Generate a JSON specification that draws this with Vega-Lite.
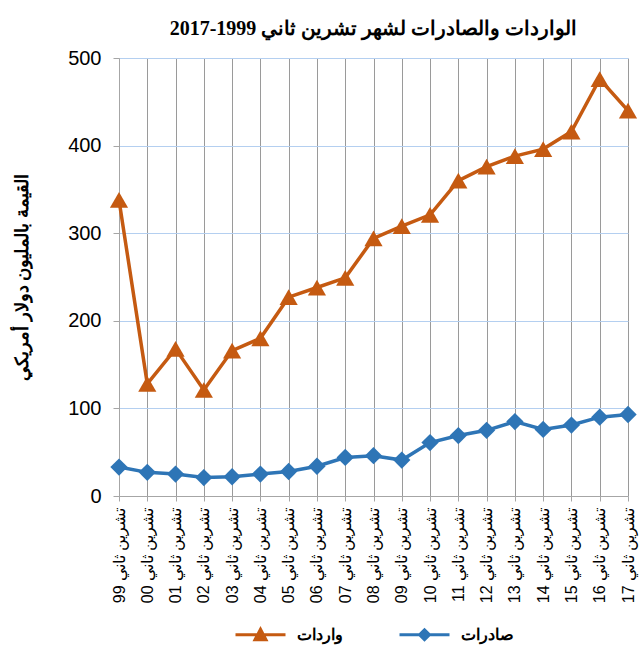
{
  "$schema": "https://vega.github.io/schema/vega-lite/v6.json",
  "width": 509,
  "height": 438,
  "padding": {"left": 13, "top": 19, "right": 14, "bottom": 5},
  "background": "#ffffff",
  "title": {
    "text": "الواردات والصادرات لشهر تشرين ثاني 1999-2017",
    "font": "Liberation Serif",
    "fontSize": 20,
    "fontWeight": "bold",
    "color": "#000000",
    "offset": 9
  },
  "data": {
    "values": [
      {"month": "تشرين ثاني 99", "series": "واردات", "value": 338},
      {"month": "تشرين ثاني 00", "series": "واردات", "value": 128},
      {"month": "تشرين ثاني 01", "series": "واردات", "value": 168},
      {"month": "تشرين ثاني 02", "series": "واردات", "value": 121},
      {"month": "تشرين ثاني 03", "series": "واردات", "value": 166},
      {"month": "تشرين ثاني 04", "series": "واردات", "value": 180},
      {"month": "تشرين ثاني 05", "series": "واردات", "value": 227},
      {"month": "تشرين ثاني 06", "series": "واردات", "value": 238},
      {"month": "تشرين ثاني 07", "series": "واردات", "value": 249},
      {"month": "تشرين ثاني 08", "series": "واردات", "value": 294},
      {"month": "تشرين ثاني 09", "series": "واردات", "value": 308},
      {"month": "تشرين ثاني 10", "series": "واردات", "value": 321},
      {"month": "تشرين ثاني 11", "series": "واردات", "value": 360},
      {"month": "تشرين ثاني 12", "series": "واردات", "value": 376},
      {"month": "تشرين ثاني 13", "series": "واردات", "value": 388},
      {"month": "تشرين ثاني 14", "series": "واردات", "value": 396},
      {"month": "تشرين ثاني 15", "series": "واردات", "value": 416},
      {"month": "تشرين ثاني 16", "series": "واردات", "value": 476},
      {"month": "تشرين ثاني 17", "series": "واردات", "value": 440},
      {"month": "تشرين ثاني 99", "series": "صادرات", "value": 33},
      {"month": "تشرين ثاني 00", "series": "صادرات", "value": 27},
      {"month": "تشرين ثاني 01", "series": "صادرات", "value": 25},
      {"month": "تشرين ثاني 02", "series": "صادرات", "value": 21},
      {"month": "تشرين ثاني 03", "series": "صادرات", "value": 22},
      {"month": "تشرين ثاني 04", "series": "صادرات", "value": 25},
      {"month": "تشرين ثاني 05", "series": "صادرات", "value": 28},
      {"month": "تشرين ثاني 06", "series": "صادرات", "value": 34},
      {"month": "تشرين ثاني 07", "series": "صادرات", "value": 44},
      {"month": "تشرين ثاني 08", "series": "صادرات", "value": 46},
      {"month": "تشرين ثاني 09", "series": "صادرات", "value": 41},
      {"month": "تشرين ثاني 10", "series": "صادرات", "value": 61},
      {"month": "تشرين ثاني 11", "series": "صادرات", "value": 69},
      {"month": "تشرين ثاني 12", "series": "صادرات", "value": 75},
      {"month": "تشرين ثاني 13", "series": "صادرات", "value": 85},
      {"month": "تشرين ثاني 14", "series": "صادرات", "value": 76},
      {"month": "تشرين ثاني 15", "series": "صادرات", "value": 81},
      {"month": "تشرين ثاني 16", "series": "صادرات", "value": 90},
      {"month": "تشرين ثاني 17", "series": "صادرات", "value": 93}
    ]
  },
  "encoding": {
    "x": {
      "field": "month",
      "type": "ordinal",
      "sort": null,
      "scale": {"type": "point", "padding": 0},
      "axis": {
        "title": null,
        "labelAngle": -90,
        "labelFont": "Liberation Sans",
        "labelFontSize": 16,
        "labelColor": "#000000",
        "labelPadding": 6,
        "grid": true,
        "gridColor": "#9a9a9a",
        "gridOpacity": 1,
        "domainColor": "#a6a6a6",
        "tickColor": "#a6a6a6",
        "tickSize": 5
      }
    },
    "y": {
      "field": "value",
      "type": "quantitative",
      "scale": {"domain": [0, 500], "nice": false},
      "axis": {
        "values": [0, 100, 200, 300, 400, 500],
        "title": "القيمة بالمليون دولار أمريكي",
        "titleFont": "Liberation Serif",
        "titleFontSize": 18,
        "titleFontWeight": "bold",
        "titleColor": "#000000",
        "titlePadding": 36,
        "labelFont": "Liberation Sans",
        "labelFontSize": 20,
        "labelColor": "#000000",
        "labelPadding": 12,
        "grid": true,
        "gridColor": "#b4cff0",
        "gridOpacity": 1,
        "domainColor": "#a6a6a6",
        "tickColor": "#a6a6a6",
        "tickSize": 6
      }
    },
    "color": {
      "field": "series",
      "type": "nominal",
      "scale": {"domain": ["واردات", "صادرات"], "range": ["#c55a11", "#2e75b6"]},
      "legend": {
        "orient": "bottom",
        "direction": "horizontal",
        "title": null,
        "labelFont": "Liberation Sans",
        "labelFontSize": 16,
        "labelFontWeight": "bold",
        "labelColor": "#000000",
        "labelOffset": 10,
        "symbolSize": 2500,
        "symbolStrokeWidth": 3,
        "symbolType": "M-1,0H1M-0.22,0.2L0,-0.22L0.22,0.2Z",
        "columnPadding": 50,
        "offset": 5,
        "encode": {
          "symbols": {
            "update": {
              "shape": {"signal": "datum.value === 'واردات' ? 'M-1,0H1M-0.22,0.2L0,-0.22L0.22,0.2Z' : 'M-1,0H1M-0.2,0L0,-0.2L0.2,0L0,0.2Z'"},
              "fill": {"scale": "color", "field": "value"},
              "stroke": {"scale": "color", "field": "value"},
              "strokeWidth": {"value": 3},
              "opacity": {"value": 1}
            }
          }
        }
      }
    }
  },
  "layer": [
    {
      "mark": {"type": "line", "strokeWidth": 3.5}
    },
    {
      "transform": [{"filter": "datum.series === 'واردات'"}],
      "mark": {"type": "point", "filled": true, "opacity": 1, "size": 330, "shape": "triangle-up"}
    },
    {
      "transform": [{"filter": "datum.series === 'صادرات'"}],
      "mark": {"type": "point", "filled": true, "opacity": 1, "size": 300, "shape": "diamond"}
    }
  ],
  "config": {
    "view": {"stroke": null},
    "legend": {"layout": {"bottom": {"anchor": "middle"}}}
  }
}
